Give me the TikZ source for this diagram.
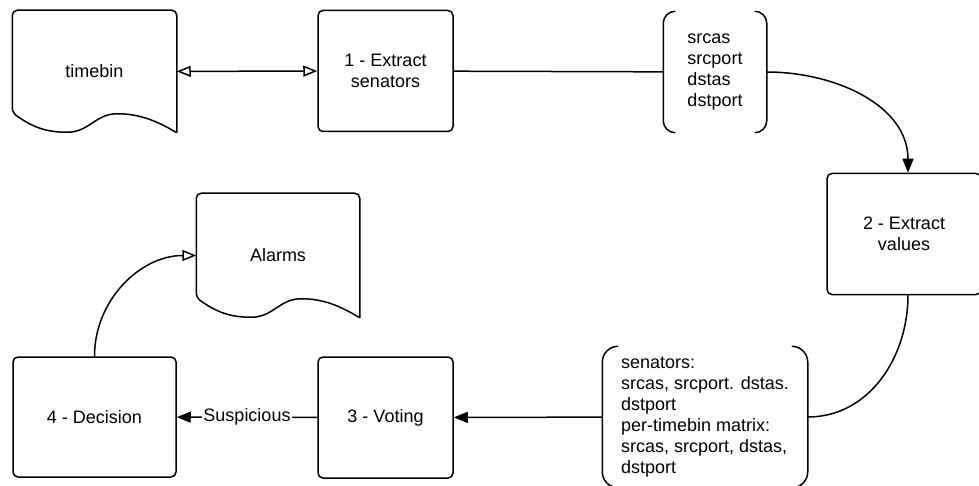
\documentclass[tikz,border=0pt]{standalone}
\usepackage{fontspec}
\setmainfont{Liberation Sans}
\usetikzlibrary{arrows.meta}

\begin{document}
\begin{tikzpicture}[x=1pt, y=-1pt,
		line width=1.5pt,
		every node/.style={inner sep=0pt, font=\fontsize{18}{21}\selectfont},
		process/.style={draw, rounded corners=5pt, align=center, minimum width=135pt, minimum height=121pt},
		document/.style={align=center, minimum width=163pt, minimum height=121pt},
		fieldlist/.style={align=left},
		hollowtip/.tip={Triangle[open, length=14pt, width=11pt]},
		filltip/.tip={Triangle[length=14pt, width=11pt]},
		]
	\useasboundingbox (0,0) rectangle (979,486);

	\node[document] (timebin) at (94.5,71.5) {timebin};
	\node[process] (extract) at (385.5,71) {1 - Extract\\senators};
	\node[fieldlist, minimum width=102pt, minimum height=120pt] (fields) at (715,72) {srcas\\srcport\\dstas\\dstport};
	\node[process, minimum width=154pt] (values) at (904,234) {2 - Extract\\values};
	\node[fieldlist, minimum width=204pt, minimum height=140pt] (matrix) at (705,417) {senators:\\srcas, srcport. dstas.\\dstport\\per-timebin matrix:\\srcas, srcport, dstas,\\dstport};
	\node[process] (voting) at (385.5,417.5) {3 - Voting};
	\node[process, minimum width=163pt, minimum height=120pt] (decision) at (94.5,417) {4 - Decision};
	\node[document, minimum width=162pt, minimum height=123pt] (alarms) at (278,255.5) {Alarms};

	\foreach \d in {timebin, alarms}
		\draw[rounded corners=5pt] (\d.south east) -- (\d.north east) -- (\d.north west) -- ([yshift=20pt]\d.south west)
			[sharp corners] .. controls +(20pt,-14pt) and +(-22pt,0pt) .. ([shift={(55pt,0.5pt)}]\d.south west)
			.. controls +(22pt,0pt) and +(-22pt,0pt) .. ([shift={(105pt,19pt)}]\d.south west)
			.. controls +(22pt,0pt) and +(-20pt,12pt) .. (\d.south east);

	\foreach \b/\r in {fields/12, matrix/16} {
		\draw[rounded corners=\r pt] ([xshift=\r pt]\b.north west) -- (\b.north west) -- (\b.south west) -- ([xshift=\r pt]\b.south west);
		\draw[rounded corners=\r pt] ([xshift=-\r pt]\b.north east) -- (\b.north east) -- (\b.south east) -- ([xshift=-\r pt]\b.south east);
	}

	\draw[hollowtip-hollowtip] (timebin) -- (extract);
	\draw (extract) -- (fields);
	\draw[-filltip] (fields.east) to[out=0, in=90] ([xshift=4pt]values.north);
	\draw ([xshift=4pt]values.south) to[out=-90, in=0] (matrix.east);
	\draw[-filltip] (matrix) -- (voting);
	\draw[-filltip] (voting) -- node[fill=white, inner sep=1pt] (suspicious) {Suspicious} (decision);
	\draw[-hollowtip] (decision.north) to[out=90, in=180] (alarms.west);
\end{tikzpicture}
\end{document}
